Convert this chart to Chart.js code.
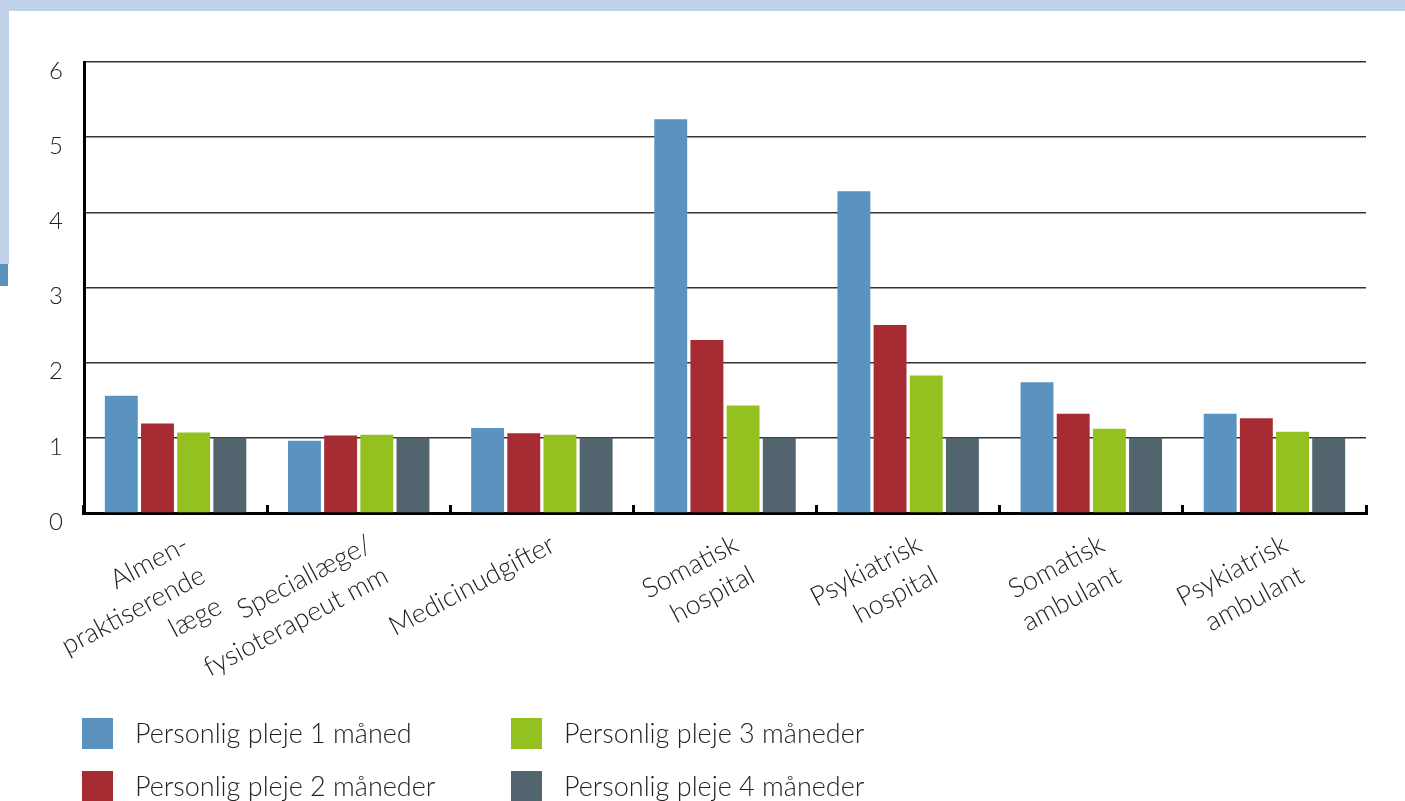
<!DOCTYPE html>
<html lang="da">
<head>
<meta charset="utf-8">
<title>Personlig pleje</title>
<script src="https://cdn.jsdelivr.net/npm/chart.js@4.4.1/dist/chart.umd.min.js"></script>
<style>
  html, body { margin: 0; padding: 0; background: #fff; }
  #wrap { position: relative; width: 1405px; height: 801px; overflow: hidden; font-family: Lato, sans-serif; font-weight: 300; color: #222; }
  #wrap canvas { position: absolute; left: 0; top: 0; }
  .band-top { position: absolute; left: 0; top: 0; width: 1405px; height: 11px; background: #bfd2e8; }
  .band-left { position: absolute; left: 0; top: 0; width: 9px; height: 264px; background: #bfd2e8; }
  .band-mark { position: absolute; left: 0; top: 264px; width: 8px; height: 22px; background: #5b93c0; }
  .legend-item { position: absolute; height: 31px; line-height: 30px; font-size: 27px; white-space: nowrap; }
  .legend-item span { display: inline-block; width: 31px; height: 31px; vertical-align: top; margin-right: 22px; }
</style>
</head>
<body>
<div id="wrap">
  <div style="position:absolute;left:0;top:0;width:1405px;height:801px;"><canvas id="chart"></canvas></div>
  <div class="band-top"></div>
  <div class="band-left"></div>
  <div class="band-mark"></div>
  <div id="legend"></div>
</div>
<script>
// categories (multi-line labels)
const categories = [
    ['Almen-', 'praktiserende', 'læge'],
    ['Speciallæge/', 'fysioterapeut mm'],
    ['Medicinudgifter'],
    ['Somatisk', 'hospital'],
    ['Psykiatrisk', 'hospital'],
    ['Somatisk', 'ambulant'],
    ['Psykiatrisk', 'ambulant']
];

// series values
const pleje1 = [1.56, 0.96, 1.13, 5.24, 4.28, 1.74, 1.32];
const pleje2 = [1.19, 1.03, 1.06, 2.30, 2.50, 1.32, 1.26];
const pleje3 = [1.07, 1.04, 1.04, 1.43, 1.83, 1.12, 1.08];
const pleje4 = [1.00, 1.00, 1.00, 1.00, 1.00, 1.00, 1.00];

const seriesNames = ['Personlig pleje 1 måned', 'Personlig pleje 2 måneder', 'Personlig pleje 3 måneder', 'Personlig pleje 4 måneder'];
const seriesColors = ['#5b93c0', '#a62b33', '#94c11f', '#52646e'];
const yTicks = [0, 1, 2, 3, 4, 5, 6];

const fontFamily = 'Lato, sans-serif';

document.addEventListener('DOMContentLoaded', function() {
    const ctx = document.getElementById('chart');
    const values = [pleje1, pleje2, pleje3, pleje4];

    new Chart(ctx, {
        type: 'bar',
        data: {
            labels: categories,
            datasets: values.map((v, i) => ({
                label: seriesNames[i],
                data: v,
                backgroundColor: seriesColors[i],
                borderWidth: 0,
                categoryPercentage: 0.79,
                barPercentage: 0.91
            }))
        },
        options: {
            responsive: true,
            maintainAspectRatio: false,
            animation: false,
            layout: { padding: { top: 62, right: 39, bottom: 0, left: 0 } },
            plugins: {
                legend: { display: false },
                tooltip: { enabled: false }
            },
            scales: {
                x: {
                    afterFit: function(scale) { scale.height = 288; },
                    border: { display: true, width: 3, color: '#000' },
                    grid: { display: true, drawOnChartArea: false, drawTicks: true, tickLength: -8, lineWidth: 3, color: '#000' },
                    ticks: {
                        color: '#222',
                        minRotation: 28,
                        maxRotation: 28,
                        autoSkip: false,
                        padding: 22,
                        labelOffset: 11,
                        font: { size: 27, family: fontFamily, weight: '300', lineHeight: 1.3 }
                    }
                },
                y: {
                    min: yTicks[0],
                    max: yTicks[yTicks.length - 1],
                    afterFit: function(scale) { scale.width = 84; },
                    afterBuildTicks: function(scale) { scale.ticks = yTicks.map(v => ({ value: v })); },
                    border: { display: true, width: 3, color: '#000' },
                    grid: { display: true, drawTicks: false, color: '#333', lineWidth: 1.5 },
                    ticks: {
                        color: '#222',
                        padding: 21,
                        labelOffset: 9,
                        font: { size: 24, family: fontFamily, weight: '300' }
                    }
                }
            }
        }
    });

    // legend in two columns, as in the reference
    const legend = document.getElementById('legend');
    const spots = [[82, 718], [82, 771], [511, 718], [511, 771]];
    seriesNames.forEach(function(name, i) {
        const item = document.createElement('div');
        item.className = 'legend-item';
        item.style.left = spots[i][0] + 'px';
        item.style.top = spots[i][1] + 'px';
        item.innerHTML = '<span style="background:' + seriesColors[i] + '"></span>' + name;
        legend.appendChild(item);
    });
});
</script>
</body>
</html>
